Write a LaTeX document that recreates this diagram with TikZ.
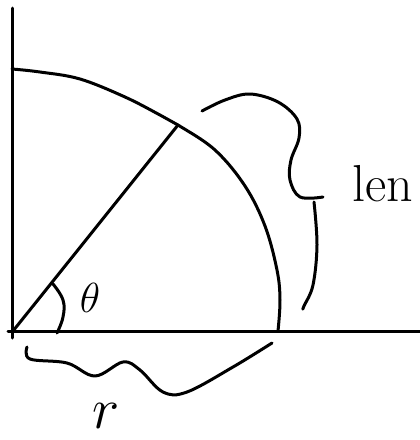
\RequirePackage{fix-cm}
\documentclass[tikz,border=0pt]{standalone}
\usepackage{amsmath, amssymb}
\usepackage{tikz}
\usetikzlibrary{arrows.meta, positioning, calc}

\tikzset{
  pen/.style={line width=3pt, line cap=round, line join=round},
  hand/.style={inner sep=0pt, font=\fontsize{58}{58}\selectfont}
}

\begin{document}
\begin{tikzpicture}[>=Stealth, x=1pt, y=-1pt]
    \useasboundingbox (0,0) rectangle (420,440);
    \clip (0,0) rectangle (420,440);
    \coordinate (O) at (13,331);
    \coordinate (P) at (178,125);

    % Axes
    \draw [pen] (12,8) -- (12,338);
    \draw [pen] (8,331) -- (422,331);

    % Arc
    \draw [pen] plot [smooth, tension=0.6] coordinates {(12,69) (40,72) (80,79) (125,97) (160,115) (178,125) (215,150) (245,186) (265,226) (277,270) (280,300) (278,331)};

    % Radius and angle
    \draw [pen] (O) -- (P);
    \draw [pen] plot [smooth, tension=0.7] coordinates {(53,284) (63,300) (63,317) (57,333)};
    \node [hand, font=\fontsize{42}{42}\selectfont] (theta) at (90,298) {$\theta$};

    % Brace for arc length
    \draw [pen] plot [smooth, tension=0.6] coordinates {(202,111) (225,100) (250,94) (278,102) (297,119) (299,138) (291,160) (290,180) (300,197) (323,197)};
    \draw [pen] plot [smooth, tension=0.6] coordinates {(314,202) (317,245) (313,285) (304,306) (303,309)};
    \node [hand, font=\fontsize{52}{52}\selectfont, anchor=base west] (len) at (352,201) {len};

    % Brace for r
    \draw [pen] plot [smooth, tension=0.6] coordinates {(27,347) (30,359) (67,363) (95,376) (123,362) (140,370) (163,392) (187,392) (233,367) (272,343)};
    \node [hand, anchor=base] (r) at (106,428) {$r$};
\end{tikzpicture}
\end{document}
